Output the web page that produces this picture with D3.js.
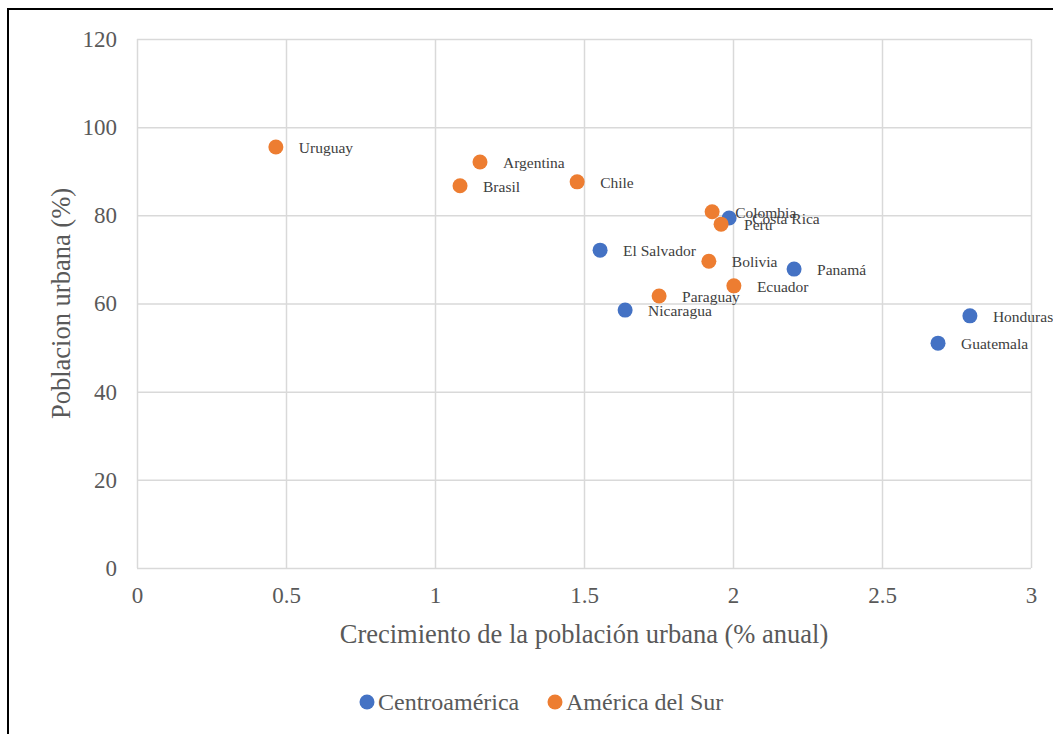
<!DOCTYPE html>
<html>
<head>
<meta charset="utf-8">
<script src="https://cdn.jsdelivr.net/npm/d3@7"></script>
<style>
  body { margin: 0; background: #fff; }
  svg text { font-family: "Liberation Serif", "Times New Roman", serif; }
</style>
</head>
<body>
<div id="chart"></div>
<script>
// datos
const centroNames = ["Costa Rica", "El Salvador", "Panamá", "Nicaragua", "Honduras", "Guatemala"];
const centroX = [1.987, 1.554, 2.205, 1.638, 2.795, 2.688];
const centroY = [79.4, 72.1, 67.8, 58.5, 57.2, 51.0];

const surNames = ["Uruguay", "Argentina", "Brasil", "Chile", "Colombia", "Peru", "Bolivia", "Ecuador", "Paraguay"];
const surX = [0.466, 1.151, 1.084, 1.477, 1.930, 1.960, 1.919, 2.003, 1.752];
const surY = [95.5, 92.1, 86.7, 87.6, 80.8, 78.0, 69.6, 64.0, 61.7];

const xTicks = [0, 0.5, 1, 1.5, 2, 2.5, 3];
const yTicks = [0, 20, 40, 60, 80, 100, 120];

const seriesNames = ["Centroamérica", "América del Sur"];
const colors = ["#4472C4", "#ED7D31"];

const width = 1053, height = 734;
const plot = {left: 137, right: 1031, top: 39, bottom: 568};

const x = d3.scaleLinear().domain([0, 3]).range([plot.left, plot.right]);
const y = d3.scaleLinear().domain([0, 120]).range([plot.bottom, plot.top]);

const svg = d3.select("#chart").append("svg")
    .attr("width", width)
    .attr("height", height);

svg.append("rect").attr("width", width).attr("height", height).attr("fill", "#fff");

// marco negro (recortado a la derecha y abajo)
svg.append("rect")
    .attr("x", 8).attr("y", 9)
    .attr("width", 1070).attr("height", 760)
    .attr("fill", "none")
    .attr("stroke", "#000")
    .attr("stroke-width", 2);

// rejilla
svg.append("g")
    .attr("transform", `translate(0,${plot.bottom})`)
    .call(d3.axisBottom(x).tickValues(xTicks).tickSize(-(plot.bottom - plot.top)).tickFormat(d => d).tickPadding(19))
    .call(g => g.select(".domain").remove())
    .call(g => g.selectAll("line").attr("stroke", "#d9d9d9").attr("stroke-width", 1.5))
    .call(g => g.selectAll("text").attr("fill", "#595959").attr("font-size", 23));

svg.append("g")
    .attr("transform", `translate(${plot.left},0)`)
    .call(d3.axisLeft(y).tickValues(yTicks).tickSize(-(plot.right - plot.left)).tickPadding(20))
    .call(g => g.select(".domain").remove())
    .call(g => g.selectAll("line").attr("stroke", "#d9d9d9").attr("stroke-width", 1.5))
    .call(g => g.selectAll("text").attr("fill", "#595959").attr("font-size", 23));

// titulos de ejes
svg.append("text")
    .attr("x", (plot.left + plot.right) / 2)
    .attr("y", 643)
    .attr("text-anchor", "middle")
    .attr("fill", "#595959")
    .attr("font-size", 26.5)
    .text("Crecimiento de la población urbana (% anual)");

svg.append("text")
    .attr("transform", `translate(70,${(plot.top + plot.bottom) / 2}) rotate(-90)`)
    .attr("text-anchor", "middle")
    .attr("fill", "#595959")
    .attr("font-size", 26.5)
    .text("Poblacion urbana (%)");

function drawSeries(names, xs, ys, color) {
    const data = names.map((n, i) => ({name: n, x: xs[i], y: ys[i]}));
    const g = svg.append("g");
    g.selectAll("circle")
        .data(data)
        .enter()
        .append("circle")
        .attr("cx", d => x(d.x))
        .attr("cy", d => y(d.y))
        .attr("r", 7.5)
        .attr("fill", color);
    return data;
}

const centroData = drawSeries(centroNames, centroX, centroY, colors[0]);
const surData = drawSeries(surNames, surX, surY, colors[1]);

// etiquetas de datos
svg.append("g")
    .selectAll("text")
    .data(surData.concat(centroData))
    .enter()
    .append("text")
    .attr("x", d => x(d.x) + 23)
    .attr("y", d => y(d.y) + 6)
    .attr("fill", "#404040")
    .attr("font-size", 15.5)
    .text(d => d.name);

// leyenda
const legend = svg.append("g").attr("transform", "translate(0,702)");
const legendX = [367, 555];
seriesNames.forEach((s, i) => {
    legend.append("circle")
        .attr("cx", legendX[i]).attr("cy", 0)
        .attr("r", 7.5)
        .attr("fill", colors[i]);
    legend.append("text")
        .attr("x", legendX[i] + 11).attr("y", 8)
        .attr("fill", "#595959")
        .attr("font-size", 24)
        .text(s);
});
</script>
</body>
</html>
